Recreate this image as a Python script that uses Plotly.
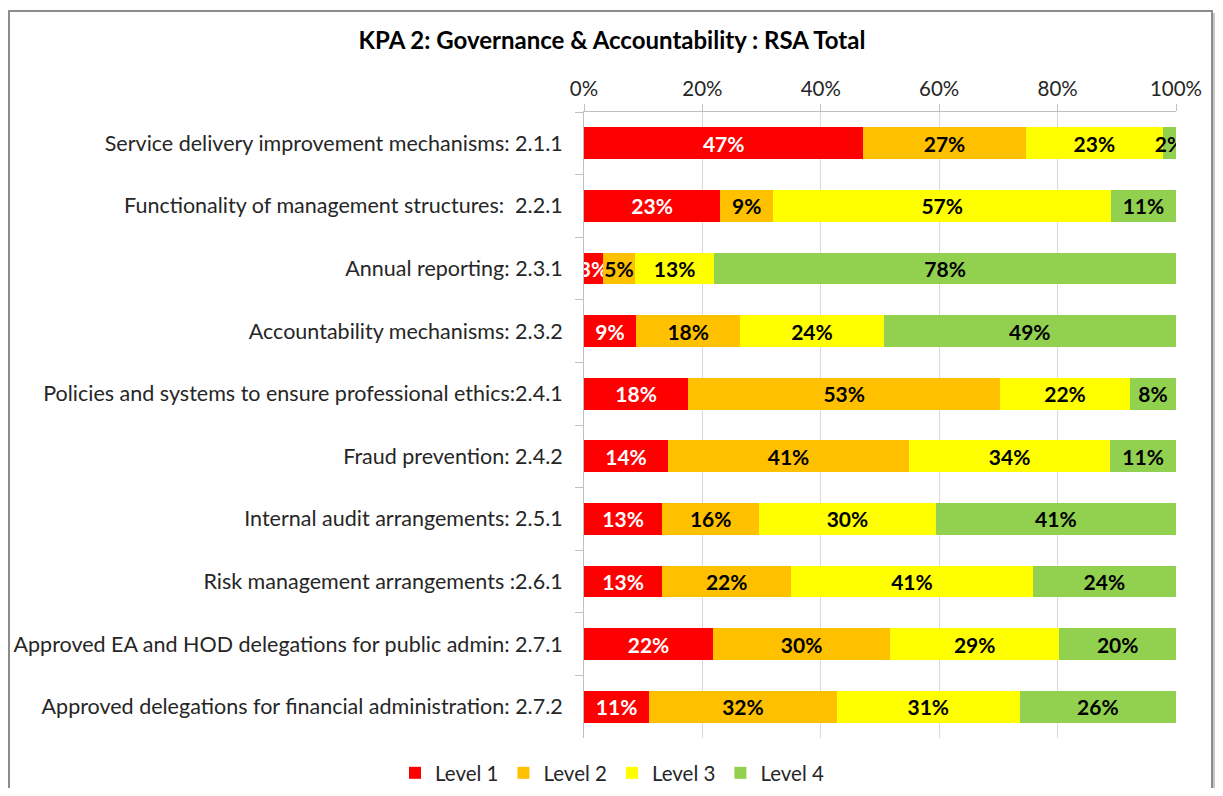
import plotly.graph_objects as go

categories = [
    "Service delivery improvement mechanisms: 2.1.1",
    "Functionality of management structures:  2.2.1",
    "Annual reporting: 2.3.1",
    "Accountability mechanisms: 2.3.2",
    "Policies and systems to ensure professional ethics:2.4.1",
    "Fraud prevention: 2.4.2",
    "Internal audit arrangements: 2.5.1",
    "Risk management arrangements :2.6.1",
    "Approved EA and HOD delegations for public admin: 2.7.1",
    "Approved delegations for financial administration: 2.7.2",
]
level1 = [47.2, 23.0, 3.2, 8.8, 17.6, 14.2, 13.2, 13.2, 21.8, 11.0]
level2 = [27.4, 9.0, 5.4, 17.6, 52.7, 40.7, 16.4, 21.8, 29.9, 31.7]
level3 = [23.2, 57.0, 13.4, 24.2, 21.9, 34.0, 29.8, 40.8, 28.6, 30.9]
level4 = [2.2, 11.0, 78.0, 49.4, 7.8, 11.1, 40.6, 24.2, 19.7, 26.4]
series_names = ["Level 1", "Level 2", "Level 3", "Level 4"]
series_values = [level1, level2, level3, level4]
colors = ["#FF0000", "#FFC000", "#FFFF00", "#92D050"]
text_colors = ["#FFFFFF", "#000000", "#000000", "#000000"]
x_ticks = [0, 20, 40, 60, 80, 100]
x_tick_labels = ["0%", "20%", "40%", "60%", "80%", "100%"]

FONT = "Lato, 'Open Sans', sans-serif"

fig = go.Figure()
for name, vals, col, tcol in zip(series_names, series_values, colors, text_colors):
    fig.add_trace(go.Bar(
        y=categories, x=vals, name=name, orientation="h",
        marker=dict(color=col, line=dict(width=0)),
        texttemplate="<b>%{x:.0f}%</b>",
        textposition="inside", insidetextanchor="middle",
        constraintext="none", textangle=0,
        textfont=dict(family=FONT, size=21, color=tcol),
        hoverinfo="skip",
    ))

# The page body has an 8px margin, so figure pixel = screen pixel - 8
OFF = 8
W, H = 1207, 780
L, R, T, B = 576, 39, 104, 50
pw, ph = W - L - R, H - T - B

def px_x(p):
    return (p - OFF - L) / pw

def px_y(p):
    return (H - B - (p - OFF)) / ph

fig.update_layout(
    width=W, height=H,
    barmode="stack", bargap=0.49,
    margin=dict(l=L, r=R, t=T, b=B, pad=0, autoexpand=False),
    paper_bgcolor="#FFFFFF", plot_bgcolor="rgba(0,0,0,0)",
    font=dict(family=FONT, color="#262626"),
    title=dict(text="<b>KPA 2: Governance &amp; Accountability : RSA Total</b>",
               x=(612 - OFF) / W, xref="container", y=1 - (41 - OFF) / H, yref="container",
               xanchor="center", yanchor="middle",
               font=dict(family=FONT, size=24, color="#000000")),
    showlegend=True,
    legend=dict(orientation="h", xref="container", yref="container",
                x=(612 - OFF) / W, y=1 - (773 - OFF) / H, xanchor="center", yanchor="middle",
                font=dict(family=FONT, size=20.5, color="#262626"), bgcolor="rgba(0,0,0,0)",
                traceorder="normal", itemwidth=30),
    xaxis=dict(side="top", range=[0, 100], tickvals=x_ticks, ticktext=x_tick_labels,
               showgrid=True, gridcolor="#D9D9D9", gridwidth=1,
               showline=True, linecolor="#BFBFBF", linewidth=1,
               ticks="outside", ticklen=7, tickcolor="#BFBFBF",
               tickfont=dict(family=FONT, size=20.5, color="#262626"),
               zeroline=False, fixedrange=True, automargin=False),
    yaxis=dict(type="category", autorange="reversed",
               showline=True, linecolor="#BFBFBF", linewidth=1,
               ticks="outside", ticklen=8, tickcolor="#BFBFBF", tickson="boundaries",
               tickfont=dict(family=FONT, size=21.5, color="#262626"),
               ticklabelstandoff=16, showgrid=False, fixedrange=True, automargin=False),
    shapes=[
        dict(type="rect", xref="paper", yref="paper", layer="below",
             x0=px_x(11), x1=px_x(1215), y0=px_y(805), y1=px_y(13),
             line=dict(width=0), fillcolor="#C8C8C8"),
        dict(type="rect", xref="paper", yref="paper", layer="below",
             x0=px_x(9), x1=px_x(1212), y0=px_y(805), y1=px_y(11),
             line=dict(color="#8C8C8C", width=2), fillcolor="#FFFFFF"),
    ],
)

fig.write_html("out.html")
